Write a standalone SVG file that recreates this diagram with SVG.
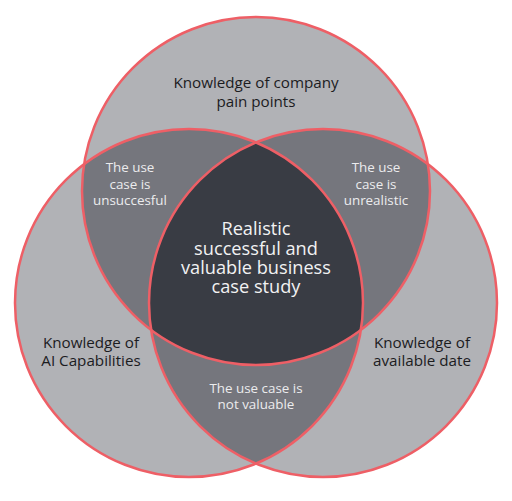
<svg xmlns="http://www.w3.org/2000/svg" width="512" height="501" viewBox="0 0 512 501">
<style>
.light{fill:#b1b2b6}
.mid{fill:#75767d}
.dark{fill:#393c44}
.ring{fill:none;stroke:#ee5f66;stroke-width:2.5}
text{font-family:"Open Sans","Liberation Sans",sans-serif;text-anchor:middle}
.t1{font-size:15.2px;fill:#1c1c1f}
.t2{font-size:13.4px;fill:#ececee}
.t3{font-size:18.2px;fill:#f2f2f3}
</style>
<defs>
<circle id="cA" cx="256" cy="191" r="174"/>
<circle id="cB" cx="189" cy="303" r="174"/>
<circle id="cC" cx="323" cy="303" r="174"/>
<clipPath id="clipA"><use href="#cA"/></clipPath>
<clipPath id="clipB"><use href="#cB"/></clipPath>
</defs>
<rect width="512" height="501" fill="#ffffff"/>
<g id="fills">
<use href="#cA" class="light"/>
<use href="#cB" class="light"/>
<use href="#cC" class="light"/>
<g clip-path="url(#clipA)">
<use href="#cB" class="mid"/>
<use href="#cC" class="mid"/>
</g>
<g clip-path="url(#clipB)">
<use href="#cC" class="mid"/>
</g>
<g clip-path="url(#clipA)">
<g clip-path="url(#clipB)">
<use href="#cC" class="dark"/>
</g>
</g>
</g>
<g id="connectors">
<use href="#cA" class="ring"/>
<use href="#cB" class="ring"/>
<use href="#cC" class="ring"/>
</g>
<g id="node-top">
<text class="t1"><tspan x="256" y="88">Knowledge of company</tspan><tspan x="256" y="107">pain points</tspan></text>
</g>
<g id="node-left">
<text class="t1"><tspan x="91" y="348">Knowledge of</tspan><tspan x="91" y="366">AI Capabilities</tspan></text>
</g>
<g id="node-right">
<text class="t1"><tspan x="422" y="348">Knowledge of</tspan><tspan x="422" y="366">available date</tspan></text>
</g>
<g id="node-ab">
<text class="t2"><tspan x="130" y="172">The use</tspan><tspan x="130" y="188.5">case is</tspan><tspan x="130" y="205">unsuccesful</tspan></text>
</g>
<g id="node-ac">
<text class="t2"><tspan x="376" y="172">The use</tspan><tspan x="376" y="188.5">case is</tspan><tspan x="376" y="205">unrealistic</tspan></text>
</g>
<g id="node-bc">
<text class="t2"><tspan x="256" y="393">The use case is</tspan><tspan x="256" y="409">not valuable</tspan></text>
</g>
<g id="node-center">
<text class="t3"><tspan x="256" y="235">Realistic</tspan><tspan x="256" y="254.5">successful and</tspan><tspan x="256" y="273.5">valuable business</tspan><tspan x="256" y="292.5">case study</tspan></text>
</g>
</svg>
